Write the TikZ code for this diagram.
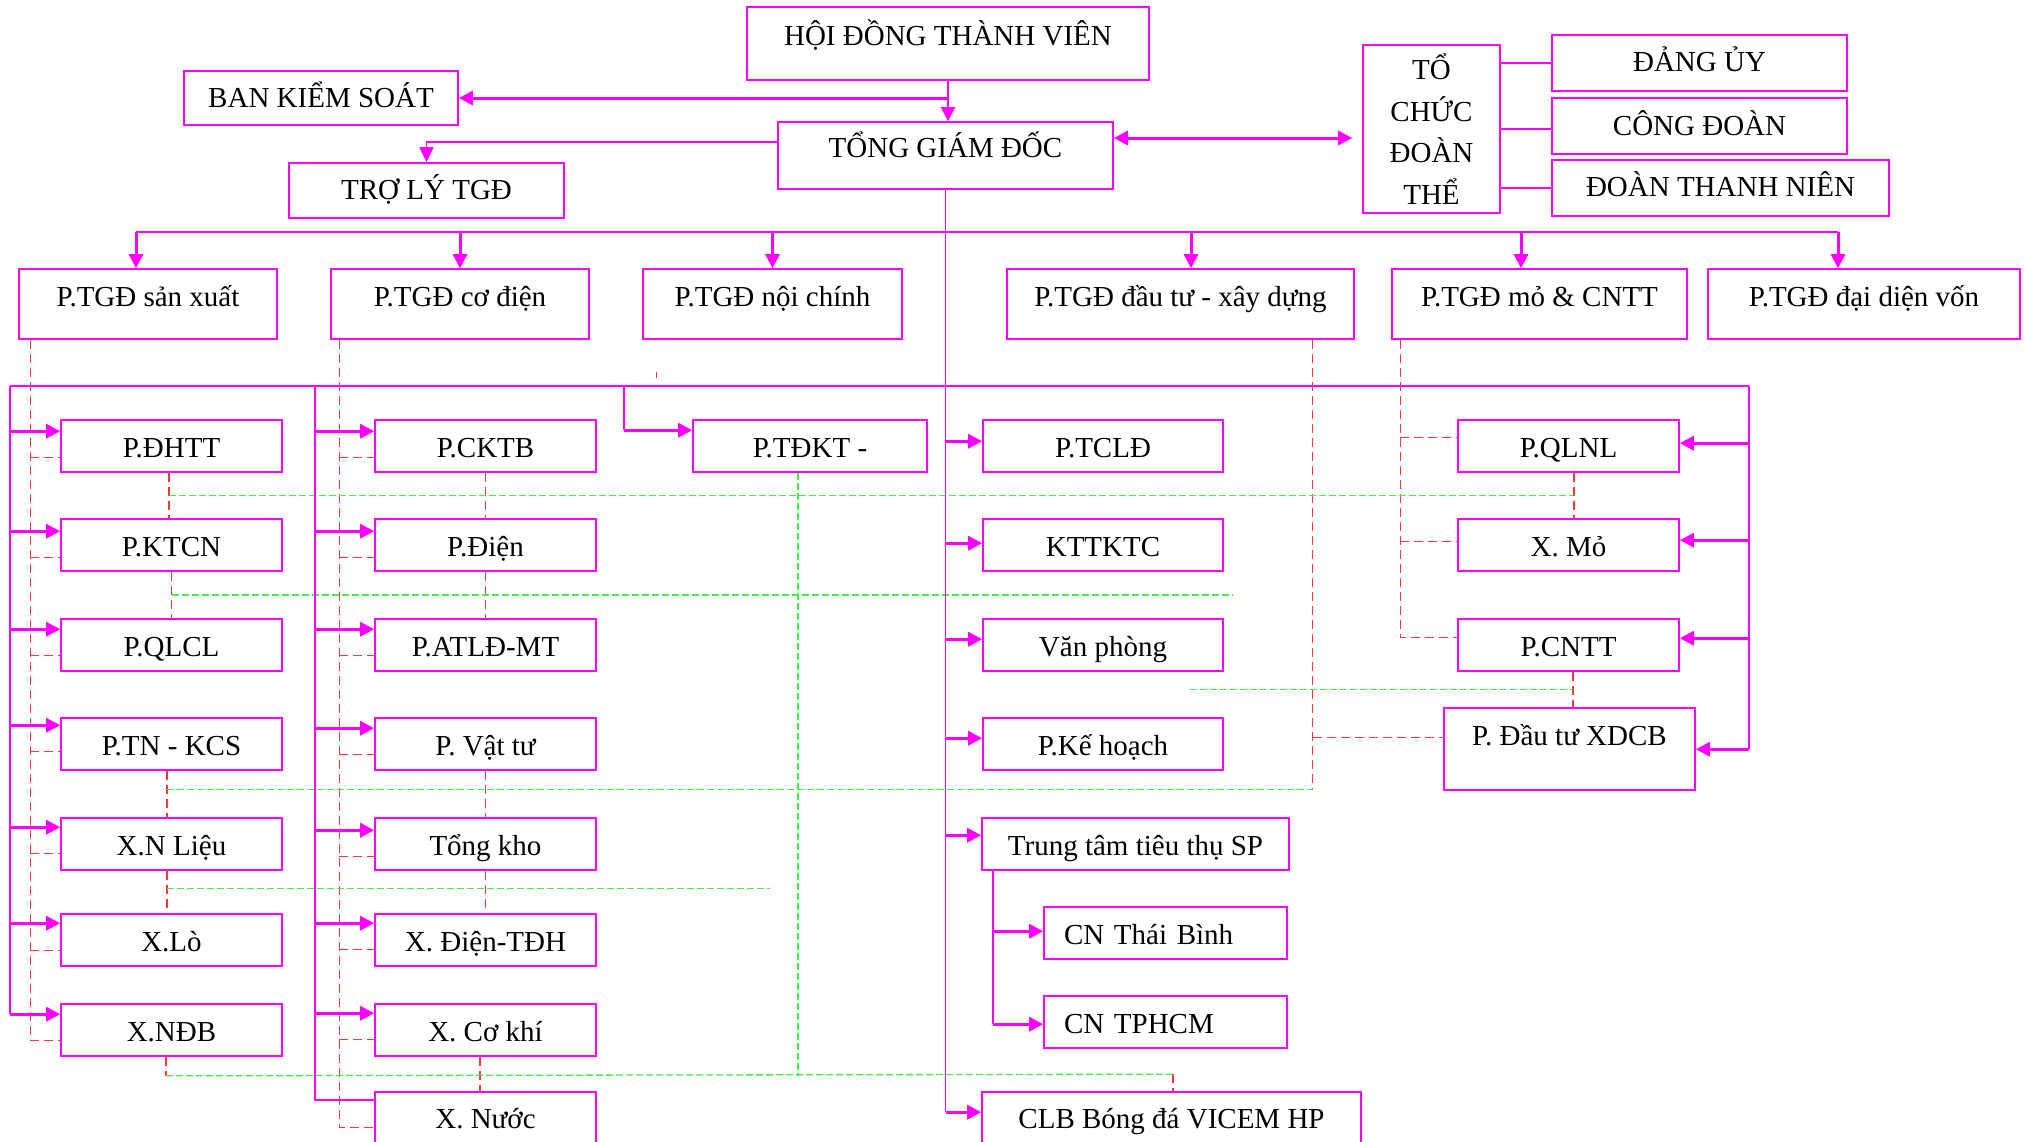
\documentclass[tikz,border=0pt]{standalone}
\usepackage{fontspec}
\setmainfont{Liberation Serif}
\usetikzlibrary{arrows.meta,calc}
\definecolor{mag}{HTML}{FF00FF}
\definecolor{redd}{HTML}{FF3535}
\definecolor{grn}{HTML}{44EE44}
\tikzset{
  bx/.style={draw=mag, line width=1.6pt, inner xsep=0pt, inner ysep=0pt, text=black, font=\fontsize{29}{34}\selectfont},
  rowbox/.style={bx, minimum height=52pt, text height=37pt, text depth=15pt},
  colbox/.style={rowbox, minimum width=221pt},
  vp/.style={bx, minimum height=70pt, text height=37pt, text depth=33pt},
  thinl/.style={draw=mag, line width=1.6pt},
  arrt/.style={draw=mag, line width=3pt, -{Triangle[length=14pt,width=14pt]}},
  arrs/.style={draw=mag, line width=1.6pt, -{Triangle[length=15pt,width=14pt]}},
  rd/.style={draw=redd, line width=1.3pt, dash pattern=on 9pt off 5pt},
  gd/.style={draw=grn, line width=1.3pt, dash pattern=on 7pt off 3pt}
}
\newcommand\rarr[3]{\draw[arrt] ($(#1 |- #2.north west)+(0,#3)$) -- ($(#2.north west)+(0,#3)$);}
\newcommand\larr[3]{\draw[arrt] ($(#1 |- #2.north east)+(0,#3)$) -- ($(#2.north east)+(0,#3)$);}
\newcommand\rdh[3]{\draw[rd] ($(#1 |- #2.north west)+(0,#3)$) -- ($(#2.north west)+(0,#3)$);}
\begin{document}
\begin{tikzpicture}[x=1pt,y=-1pt]
\useasboundingbox[fill=white] (0,0) rectangle (2024,1141);

% ---------- top ----------
\node[bx, minimum width=402pt, minimum height=73pt, text height=38pt, text depth=35pt] (hdtv) at (948,43.5) {HỘI ĐỒNG THÀNH VIÊN};
\node[bx, minimum width=274pt, minimum height=54pt, text height=36pt, text depth=18pt] (bks) at (321,98) {BAN KIỂM SOÁT};
\node[bx, minimum width=335pt, minimum height=67pt, text height=35pt, text depth=32pt] (tgd) at (945.5,155.5) {TỔNG GIÁM ĐỐC};
\node[bx, minimum width=275pt, minimum height=55pt, text height=36pt, text depth=19pt] (troly) at (426.5,190.5) {TRỢ LÝ TGĐ};
\node[bx, minimum width=137pt, minimum height=168pt, align=center, font=\fontsize{29}{41.5}\selectfont] (tcdt) at (1431.5,129) {TỔ\\CHỨC\\ĐOÀN\\THỂ};
\node[bx, minimum width=295pt, minimum height=56pt, text height=36pt, text depth=20pt] (dangu) at (1699.5,63) {ĐẢNG ỦY};
\node[bx, minimum width=295pt, minimum height=56pt, text height=37pt, text depth=19pt] (congdoan) at (1699.5,126) {CÔNG ĐOÀN};
\node[bx, minimum width=337pt, minimum height=56pt, text height=36pt, text depth=20pt] (doantn) at (1720.5,188) {ĐOÀN THANH NIÊN};

% ---------- deputy row ----------
\node[vp, minimum width=258pt] (sx) at (148,304) {P.TGĐ sản xuất};
\node[vp, minimum width=258pt] (cd) at (460,304) {P.TGĐ cơ điện};
\node[vp, minimum width=259pt] (nc) at (772.5,304) {P.TGĐ nội chính};
\node[vp, minimum width=347pt] (dt) at (1180.5,304) {P.TGĐ đầu tư - xây dựng};
\node[vp, minimum width=295pt] (mo) at (1539.5,304) {P.TGĐ mỏ \& CNTT};
\node[vp, minimum width=312pt] (von) at (1864,304) {P.TGĐ đại diện vốn};

% ---------- left column ----------
\node[colbox] (dhtt) at (171.5,446) {P.ĐHTT};
\node[colbox] (ktcn) at (171.5,545) {P.KTCN};
\node[colbox] (qlcl) at (171.5,645) {P.QLCL};
\node[colbox] (tnkcs) at (171.5,744) {P.TN - KCS};
\node[colbox] (nlieu) at (171.5,844) {X.N Liệu};
\node[colbox] (lo) at (171.5,940) {X.Lò};
\node[colbox] (ndb) at (171.5,1030) {X.NĐB};

% ---------- middle column ----------
\node[colbox] (cktb) at (485.5,446) {P.CKTB};
\node[colbox] (dien) at (485.5,545) {P.Điện};
\node[colbox] (atld) at (485.5,645) {P.ATLĐ-MT};
\node[colbox] (vattu) at (485.5,744) {P. Vật tư};
\node[colbox] (tongkho) at (485.5,844) {Tổng kho};
\node[colbox] (dientdh) at (485.5,940) {X. Điện-TĐH};
\node[colbox] (cokhi) at (485.5,1030) {X. Cơ khí};
\node[bx, minimum width=221pt, minimum height=60pt, text height=36pt, text depth=24pt] (nuoc) at (485.5,1122) {X. Nước};

\node[rowbox, minimum width=234pt] (tdkt) at (810,446) {P.TĐKT -};

% ---------- centre column ----------
\node[rowbox, minimum width=240pt] (tcld) at (1103,446) {P.TCLĐ};
\node[rowbox, minimum width=240pt] (kttktc) at (1103,545) {KTTKTC};
\node[rowbox, minimum width=240pt] (vanphong) at (1103,645) {Văn phòng};
\node[rowbox, minimum width=240pt] (kehoach) at (1103,744) {P.Kế hoạch};
\node[rowbox, minimum width=307pt] (tttt) at (1135.5,844) {Trung tâm tiêu thụ SP};
\node[rowbox, inner xsep=20pt, text width=203pt, align=left] (cntb) at (1165.5,933) {CN Thái Bình};
\node[rowbox, inner xsep=20pt, text width=203pt, align=left] (cnhcm) at (1165.5,1022) {CN TPHCM};
\node[bx, minimum width=379pt, minimum height=60pt, text height=36pt, text depth=24pt] (clb) at (1171.5,1122) {CLB Bóng đá VICEM HP};

% ---------- right column ----------
\node[colbox] (qlnl) at (1568.5,446) {P.QLNL};
\node[colbox] (xmo) at (1568.5,545) {X. Mỏ};
\node[colbox] (cntt) at (1568.5,645) {P.CNTT};
\node[bx, minimum width=251pt, minimum height=82pt, text height=37pt, text depth=45pt] (dautu) at (1569.5,749) {P. Đầu tư XDCB};

% ---------- coordinates ----------
\coordinate (busA) at (0,232);
\coordinate (lsp) at (10,386);
\coordinate (msp) at (315,386);
\coordinate (tsp) at (624,386);
\coordinate (rsp) at (1749,386);
\coordinate (csp) at (tgd.south);
\coordinate (ssp) at ($(tttt.south west)+(12,0)$);
\coordinate (lr) at ($(sx.south west)+(12,0)$);
\coordinate (mr) at ($(cd.south west)+(9,0)$);
\coordinate (mor) at ($(mo.south west)+(9,0)$);
\coordinate (dr) at ($(dt.south east)+(-42,0)$);
\coordinate (g1L) at ($(dhtt.south)!0.5!(ktcn.north)+(-2.5,0)$);
\coordinate (g1R) at ($(qlnl.south)!0.5!(xmo.north)+(5.5,0)$);
\coordinate (g2L) at ($(ktcn.south)!0.5!(qlcl.north)$);
\coordinate (g3R) at ($(cntt.south)!0.5!(dautu.north)+(4,0)$);
\coordinate (g4L) at ($(tnkcs.south)+(-4.5,19)$);
\coordinate (g5L) at ($(nlieu.south)+(-4.5,18)$);
\coordinate (g6L) at ($(ndb.south)+(-5.5,19)$);
\coordinate (g6R) at ($(clb.north)+(1.5,-17)$);

% ---------- red dashed ----------
\draw[rd] (lr) |- ($(ndb.north west)+(0,37)$);
\rdh{lr}{dhtt}{38} \rdh{lr}{ktcn}{39} \rdh{lr}{qlcl}{37} \rdh{lr}{tnkcs}{34} \rdh{lr}{nlieu}{36} \rdh{lr}{lo}{37}
\draw[rd] (mr) |- ($(nuoc.north west)+(0,36)$);
\rdh{mr}{cktb}{38} \rdh{mr}{dien}{39} \rdh{mr}{atld}{37} \rdh{mr}{vattu}{37} \rdh{mr}{tongkho}{39} \rdh{mr}{dientdh}{36} \rdh{mr}{cokhi}{36}
\draw[rd] (mor) |- ($(cntt.north west)+(0,19)$);
\rdh{mor}{qlnl}{18} \rdh{mor}{xmo}{23}
\draw[rd] (dr) -- (dr |- g4L);
\rdh{dr}{dautu}{30}
\draw[rd] ($(dhtt.south)+(-2.5,0)$) -- ($(ktcn.north)+(-2.5,0)$);
\draw[rd] (ktcn.south) -- (qlcl.north);
\draw[rd] ($(tnkcs.south)+(-4.5,0)$) -- ($(nlieu.north)+(-4.5,0)$);
\draw[rd] ($(nlieu.south)+(-4.5,0)$) -- ($(lo.north)+(-4.5,0)$);
\draw[rd] ($(ndb.south)+(-5.5,0)$) -- (g6L);
\draw[rd] (cktb.south) -- (dien.north);
\draw[rd] (dien.south) -- (atld.north);
\draw[rd] (vattu.south) -- (tongkho.north);
\draw[rd] (tongkho.south) -- (dientdh.north);
\draw[rd] ($(cokhi.south)+(-5.5,0)$) -- ($(nuoc.north)+(-5.5,0)$);
\draw[rd] ($(qlnl.south)+(5.5,0)$) -- ($(xmo.north)+(5.5,0)$);
\draw[rd] ($(cntt.south)+(4.5,0)$) -- ($(dautu.north)+(3.5,0)$);
\draw[rd] (g6R) -- ($(clb.north)+(1.5,0)$);
\draw[rd] ($(nc.south west)+(14,32)$) -- ($(nc.south west)+(14,38)$);

% ---------- green dashed ----------
\draw[gd] (g1L) -- (g1R);
\draw[gd] (g2L) -- ($(g2L -| kttktc.east)+(9,0)$);
\draw[gd] ($(g3R -| vanphong.east)+(-34,0)$) -- (g3R);
\draw[gd] (g4L) -- (dr |- g4L);
\draw[gd] (g5L) -- ($(g5L -| tdkt.west)+(78,0)$);
\draw[gd] (g6L) -- (g6R);
\draw[gd] ($(tdkt.south)+(-12,0)$) -- ($(tdkt.south |- g6L)+(-12,0)$);

% ---------- top connectors ----------
\draw[draw=mag, line width=2.2pt, -{Triangle[length=14pt,width=14pt]}] (hdtv.south) -- (hdtv.south |- tgd.north);
\draw[arrt] (hdtv.south |- bks.east) -- (bks.east);
\draw[arrs] ($(tgd.north west)+(0,21)$) -| (troly.north);
\draw[arrt, {Triangle[length=14pt,width=14pt]}-{Triangle[length=14pt,width=14pt]}] ($(tgd.east)+(0,-17.5)$) -- ($(tcdt.west |- tgd.east)+(-10,-17.5)$);
\draw[thinl] (tcdt.east |- dangu.west) -- (dangu.west);
\draw[thinl] ($(tcdt.east |- congdoan.west)+(0,3)$) -- ($(congdoan.west)+(0,3)$);
\draw[thinl] (tcdt.east |- doantn.west) -- (doantn.west);

% ---------- bus to deputies ----------
\draw[thinl] ($(sx.north |- busA)+(-12,0)$) -- ($(von.north |- busA)+(-26,0)$);
\draw[arrt] ($(sx.north |- busA)+(-12,0)$) -- ($(sx.north)+(-12,0)$);
\draw[arrt] (cd.north |- busA) -- (cd.north);
\draw[arrt] (nc.north |- busA) -- (nc.north);
\draw[arrt] ($(dt.north |- busA)+(10.5,0)$) -- ($(dt.north)+(10.5,0)$);
\draw[arrt] ($(mo.north |- busA)+(-18.5,0)$) -- ($(mo.north)+(-18.5,0)$);
\draw[arrt] ($(von.north |- busA)+(-26,0)$) -- ($(von.north)+(-26,0)$);

% ---------- spines ----------
\draw[thinl] (lsp) -- (rsp);
\draw[thinl] (lsp) -- ($(lsp |- ndb.north)+(0,11)$);
\draw[thinl] (msp) |- ($(nuoc.north west)+(0,9)$);
\draw[thinl] (tsp) -- ($(tsp |- tdkt.north)+(0,11)$);
\draw[arrt] ($(tsp |- tdkt.north)+(0,11)$) -- ($(tdkt.north west)+(0,11)$);
\draw[thinl] (csp) -- ($(csp |- clb.north)+(0,21)$);
\draw[thinl] (rsp) -- ($(rsp |- dautu.north)+(0,42)$);
\draw[thinl] (ssp) -- ($(ssp |- cnhcm.north)+(0,29)$);

\rarr{lsp}{dhtt}{12} \rarr{lsp}{ktcn}{13} \rarr{lsp}{qlcl}{11} \rarr{lsp}{tnkcs}{8}
\rarr{lsp}{nlieu}{10} \rarr{lsp}{lo}{10} \rarr{lsp}{ndb}{11}
\rarr{msp}{cktb}{12} \rarr{msp}{dien}{13} \rarr{msp}{atld}{11} \rarr{msp}{vattu}{11}
\rarr{msp}{tongkho}{13} \rarr{msp}{dientdh}{10} \rarr{msp}{cokhi}{10}
\rarr{csp}{tcld}{22} \rarr{csp}{kttktc}{25} \rarr{csp}{vanphong}{21} \rarr{csp}{kehoach}{21}
\rarr{csp}{tttt}{18} \rarr{csp}{clb}{21}
\rarr{ssp}{cntb}{25} \rarr{ssp}{cnhcm}{29}
\larr{rsp}{qlnl}{24} \larr{rsp}{xmo}{22} \larr{rsp}{cntt}{20} \larr{rsp}{dautu}{42}
\end{tikzpicture}
\end{document}
